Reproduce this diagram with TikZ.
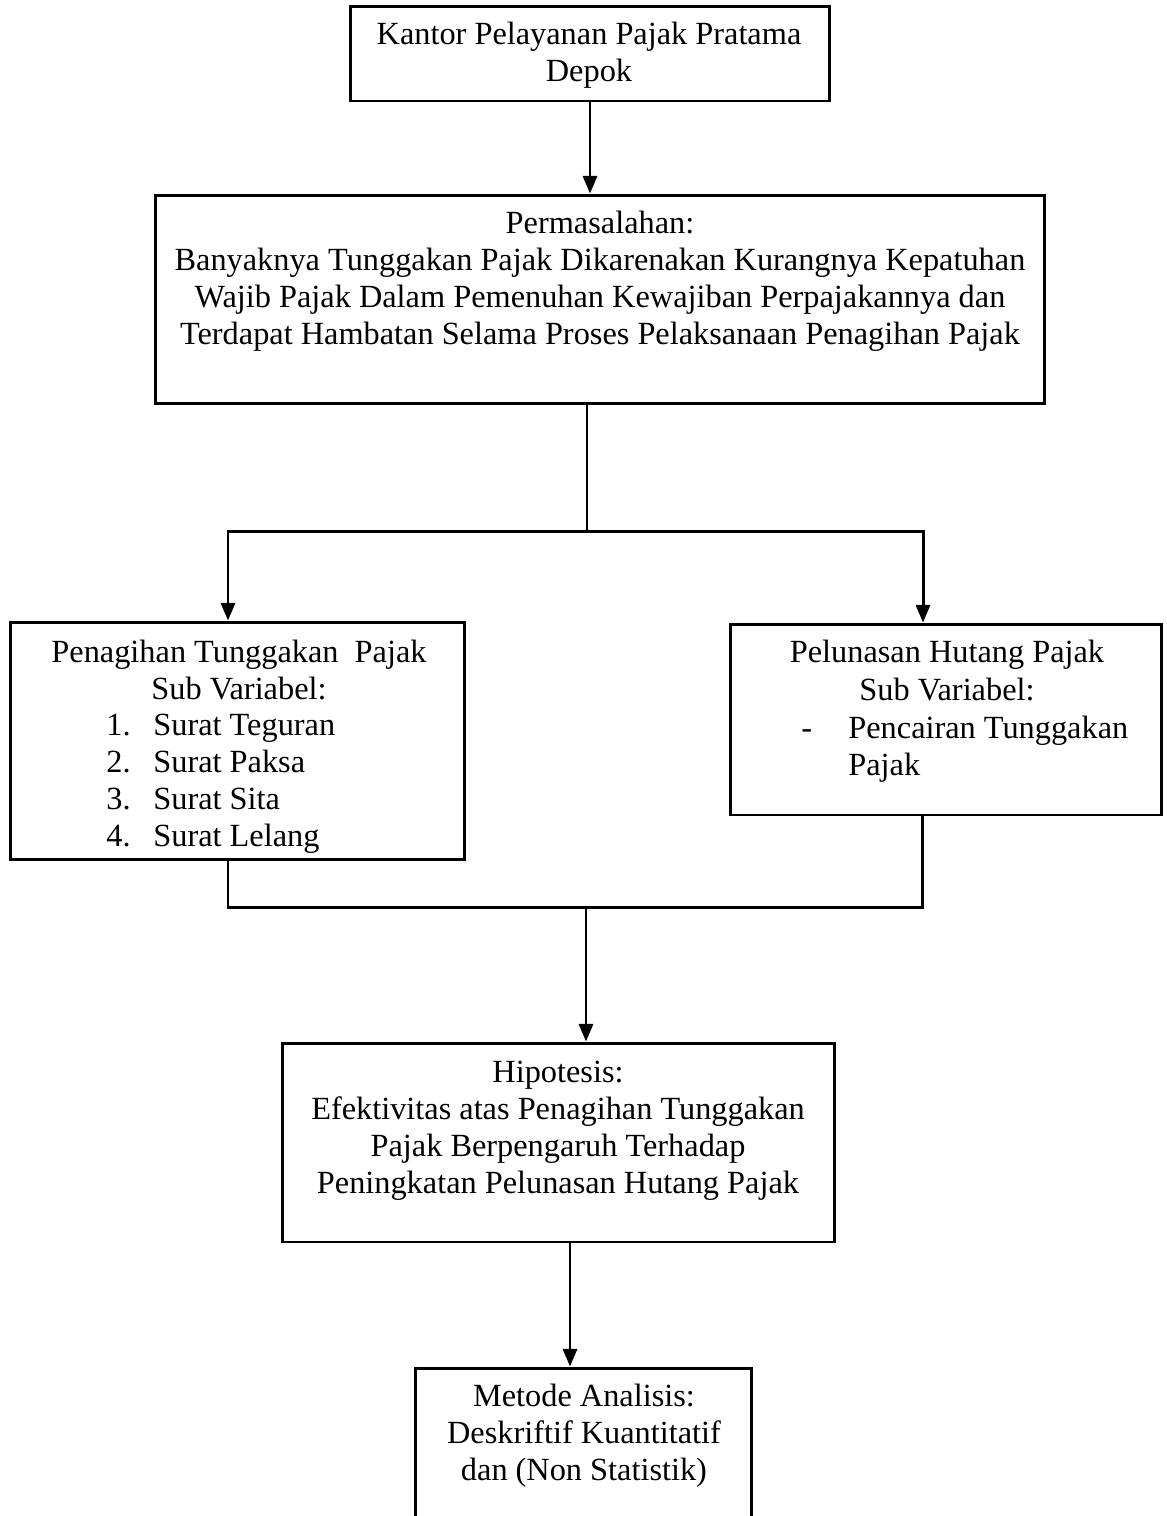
\documentclass[tikz,border=0pt]{standalone}
\usepackage{fontspec}
\setmainfont{Liberation Serif}
\usetikzlibrary{arrows.meta}

\tikzset{
  kotak/.style={draw, line width=1.7pt, inner sep=0pt},
  teks/.style={inner sep=0pt, align=center},
  daftar/.style={inner sep=0pt, align=left, anchor=west},
  panah/.style={-{Triangle[length=10pt,width=8pt]}},
}
\newcommand{\butir}[1]{\makebox[26.7pt][l]{#1}}

\begin{document}
\begin{tikzpicture}[x=0.02cm, y=-0.02cm, line width=1.7pt, font=\fontsize{18.4}{21.1}\selectfont]

\useasboundingbox (0,0) rectangle (1167,1516);

% kotak
\node[kotak, minimum width=9.6cm, minimum height=1.9cm] (kpp) at (590,53.5) {};
\node[kotak, minimum width=17.8cm, minimum height=4.18cm] (masalah) at (600,299.5) {};
\node[kotak, minimum width=9.1cm, minimum height=4.76cm] (tagih) at (237.5,741) {};
\node[kotak, minimum width=8.64cm, minimum height=3.82cm] (lunas) at (946,719.5) {};
\node[kotak, minimum width=11.06cm, minimum height=3.98cm] (hipo) at (558.5,1142.5) {};
\node[kotak, minimum width=6.74cm, minimum height=3.54cm] (metode) at (583.5,1456.5) {};

% teks
\node[teks] (kppT) at (589,55) {Kantor Pelayanan Pajak Pratama\\Depok};
\node[teks] (masalahT) at (600,281) {Permasalahan:\\Banyaknya Tunggakan Pajak Dikarenakan Kurangnya Kepatuhan\\Wajib Pajak Dalam Pemenuhan Kewajiban Perpajakannya dan\\Terdapat Hambatan Selama Proses Pelaksanaan Penagihan Pajak};
\node[teks] (tagihT) at (239,670) {Penagihan Tunggakan \ Pajak\\Sub Variabel:};
\node[daftar] (tagihL) at (105,784) {\butir{1.}Surat Teguran\\\butir{2.}Surat Paksa\\\butir{3.}Surat Sita\\\butir{4.}Surat Lelang};
\node[teks] (lunasT) at (947,670.5) {Pelunasan Hutang Pajak\\Sub Variabel:};
\node[daftar] (lunasL) at (800,749.5) {\butir{-}Pencairan Tunggakan\\\butir{}Pajak};
\node[teks] (hipoT) at (558,1131) {Hipotesis:\\Efektivitas atas Penagihan Tunggakan\\Pajak Berpengaruh Terhadap\\Peningkatan Pelunasan Hutang Pajak};
\node[teks] (metodeT) at (584,1436) {Metode Analisis:\\Deskriftif Kuantitatif\\dan (Non Statistik)};

% titik cabang
\coordinate (cabang) at (587,531);
\coordinate (kiri) at (228,531);
\coordinate (kanan) at (923,531);
\coordinate (bawahkiri) at (228,907);
\coordinate (bawahkanan) at (922,907);
\coordinate (gabung) at (586,907);
\coordinate (turun) at (570,1242);

% garis
\draw[panah] (kpp.south) -- (kpp.south |- masalah.north);
\draw (cabang |- masalah.south) -- (cabang);
\draw[panah] (cabang) -| (kiri |- tagih.north);
\draw[panah] (cabang) -| (kanan |- lunas.north);
\draw (bawahkiri |- tagih.south) |- (bawahkanan) -- (bawahkanan |- lunas.south);
\draw[panah] (gabung) -- (gabung |- hipo.north);
\draw[panah] (turun) -- (turun |- metode.north);

\end{tikzpicture}
\end{document}
